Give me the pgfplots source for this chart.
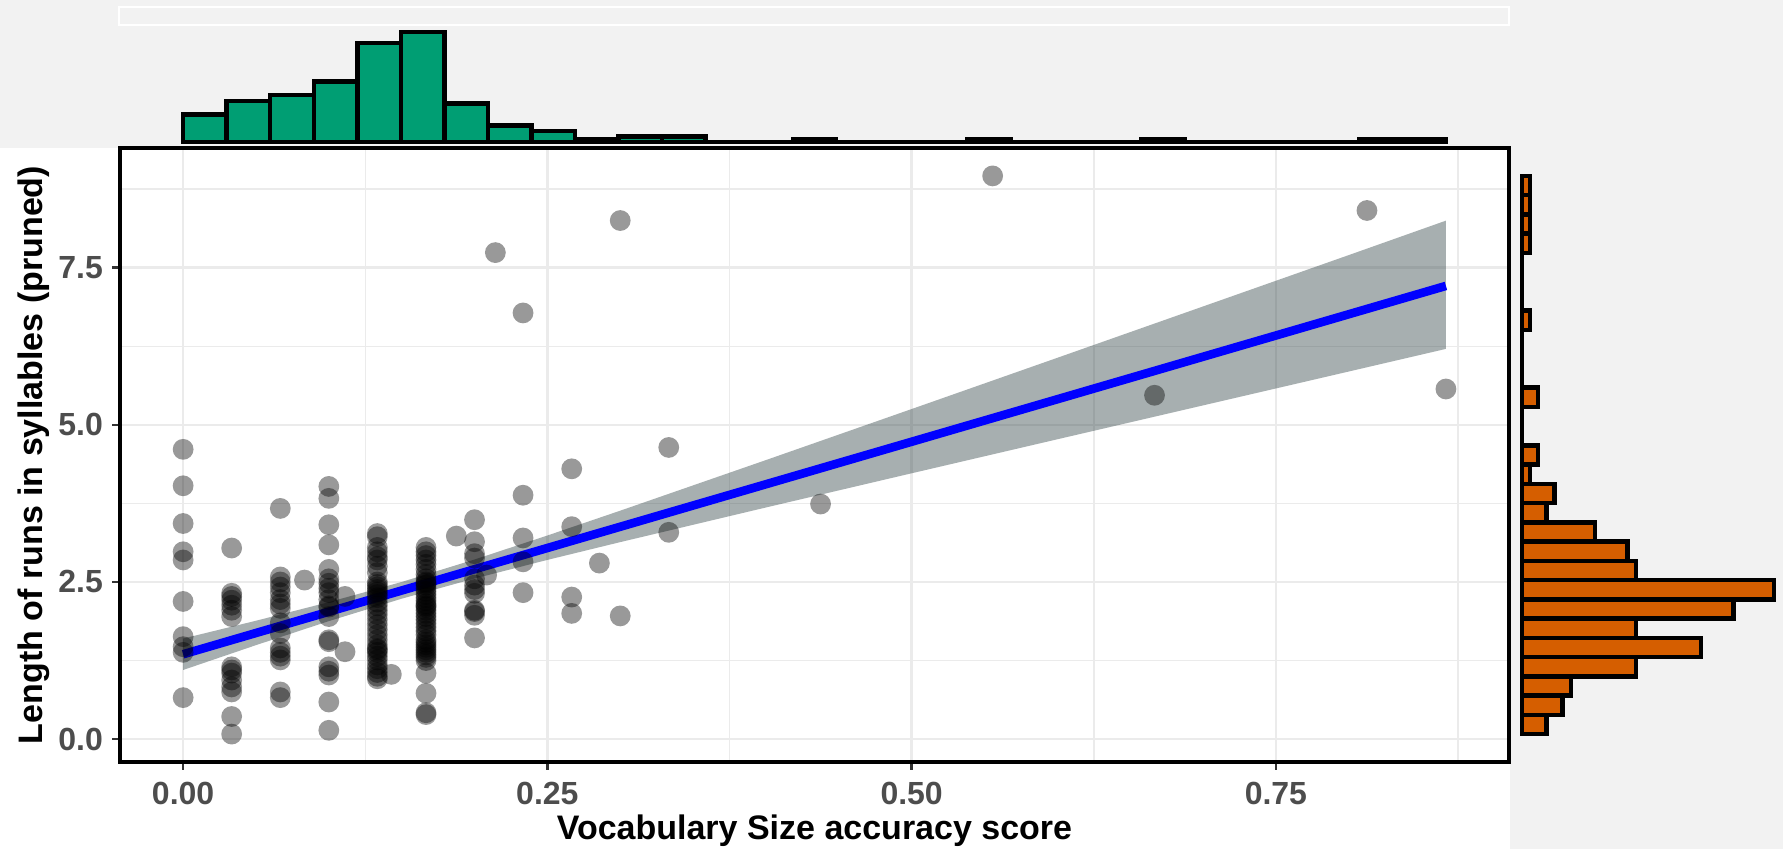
\documentclass[border=0pt]{standalone}
\usepackage{fontspec}
\setmainfont{Liberation Sans}
\usepackage{pgfplots}
\pgfplotsset{compat=1.18}
\definecolor{bggray}{RGB}{242,242,242}
\definecolor{gridcol}{RGB}{235,235,235}
\definecolor{tickcol}{RGB}{51,51,51}
\definecolor{labcol}{RGB}{77,77,77}
\definecolor{histgreen}{RGB}{0,158,115}
\definecolor{historange}{RGB}{213,94,0}
\definecolor{bandcol}{RGB}{35,55,58}
\begin{document}
\begin{tikzpicture}
\fill[bggray] (0,0) rectangle (891.5pt,424.5pt);
\fill[white] (0,0) rectangle (755pt,350.5pt);
\draw[white, line width=1pt] (59.5pt,412pt) rectangle (754.5pt,420.75pt);

% main scatter panel
\begin{axis}[
  at={(60pt,43.5pt)}, anchor=south west,
  width=694.5pt, height=307pt, scale only axis,
  xmin=-0.04333, xmax=0.91, ymin=-0.364, ymax=9.404,
  axis line style={line width=2.2pt, black},
  xtick={0,0.25,0.5,0.75}, xticklabels={0.00,0.25,0.50,0.75},
  ytick={0,2.5,5,7.5}, yticklabels={0.0,2.5,5.0,7.5},
  minor xtick={0.125,0.375,0.625,0.875},
  minor ytick={1.25,3.75,6.25,8.75},
  grid=both,
  major grid style={line width=1.3pt, color=gridcol},
  minor grid style={line width=0.75pt, color=gridcol},
  tick align=outside, xtick pos=bottom, ytick pos=left,
  major tick length=4pt, minor tick length=0pt,
  tick style={line width=1.2pt, color=tickcol},
  ticklabel style={font=\fontsize{16}{18}\selectfont\bfseries, text=labcol},
  xticklabel style={yshift=-2.5pt},
  yticklabel style={xshift=-1pt},
  xlabel={Vocabulary Size accuracy score},
  ylabel={Length of runs in syllables (pruned)},
  label style={font=\fontsize{17}{20}\selectfont\bfseries, text=black},
  xlabel style={at={(axis description cs:0.5,-0.1124)}, anchor=center},
  ylabel style={at={(axis description cs:-0.0619,0.5)}, anchor=center},
]
\addplot[only marks, mark=*, mark size=5.2pt, draw=none,
  mark options={solid, fill=black, draw=black, draw opacity=0, fill opacity=0.4, line width=0pt}] coordinates {
(0,4.61) (0,4.03) (0,3.43) (0,2.98) (0,2.85) (0,2.19) (0,1.63) (0,1.47) (0,1.38) (0,0.66)
(0.0333,3.04) (0.0333,2.32) (0.0333,2.27) (0.0333,2.21) (0.0333,2.13) (0.0333,2.05) (0.0333,1.95) (0.0333,1.15) (0.0333,1.10) (0.0333,1.05) (0.0333,0.94) (0.0333,0.83) (0.0333,0.75) (0.0333,0.36) (0.0333,0.08)
(0.0667,3.67) (0.0667,2.58) (0.0667,2.50) (0.0667,2.42) (0.0667,2.33) (0.0667,2.22) (0.0667,2.15) (0.0667,2.08) (0.0667,1.85) (0.0667,1.68) (0.0667,1.45) (0.0667,1.38) (0.0667,1.32) (0.0667,1.26) (0.0667,0.75) (0.0667,0.66)
(0.0833,2.53)
(0.1,4.02) (0.1,3.83) (0.1,3.41) (0.1,3.09) (0.1,2.70) (0.1,2.55) (0.1,2.48) (0.1,2.40) (0.1,2.33) (0.1,2.10) (0.1,2.22) (0.1,2.12) (0.1,1.95) (0.1,1.58) (0.1,1.55) (0.1,1.15) (0.1,1.08) (0.1,1.02) (0.1,0.59) (0.1,0.14)
(0.1111,1.39) (0.1111,2.27)
(0.1333,3.27) (0.1333,3.22) (0.1333,3.05) (0.1333,2.98) (0.1333,2.90) (0.1333,2.85) (0.1333,2.75) (0.1333,2.65) (0.1333,2.50) (0.1333,2.46) (0.1333,2.42) (0.1333,2.38) (0.1333,2.34) (0.1333,2.30) (0.1333,2.25) (0.1333,2.18) (0.1333,2.12) (0.1333,2.05) (0.1333,1.98) (0.1333,1.90) (0.1333,1.82) (0.1333,1.74) (0.1333,1.66) (0.1333,1.58) (0.1333,1.50) (0.1333,1.44) (0.1333,1.38) (0.1333,1.32) (0.1333,1.26) (0.1333,1.18) (0.1333,1.12) (0.1333,1.06) (0.1333,1.00) (0.1333,0.96) (0.1333,1.42)
(0.1429,1.03)
(0.1667,3.05) (0.1667,2.98) (0.1667,2.92) (0.1667,2.85) (0.1667,2.78) (0.1667,2.70) (0.1667,2.62) (0.1667,2.55) (0.1667,2.50) (0.1667,2.48) (0.1667,2.45) (0.1667,2.40) (0.1667,2.35) (0.1667,2.30) (0.1667,2.25) (0.1667,2.20) (0.1667,2.15) (0.1667,2.12) (0.1667,2.10) (0.1667,2.05) (0.1667,2.00) (0.1667,1.95) (0.1667,1.90) (0.1667,1.84) (0.1667,1.78) (0.1667,1.72) (0.1667,1.66) (0.1667,1.58) (0.1667,1.54) (0.1667,1.50) (0.1667,1.46) (0.1667,1.42) (0.1667,1.38) (0.1667,1.34) (0.1667,1.30) (0.1667,1.25) (0.1667,1.05) (0.1667,0.73) (0.1667,0.42) (0.1667,0.39)
(0.1875,3.23)
(0.2,3.49) (0.2,3.14) (0.2,2.95) (0.2,2.88) (0.2,2.55) (0.2,2.45) (0.2,2.38) (0.2,2.32) (0.2,2.05) (0.2,2.03) (0.2,1.97) (0.2,1.61)
(0.2083,2.61)
(0.2143,7.74)
(0.2333,6.78) (0.2333,3.88) (0.2333,3.20) (0.2333,2.82) (0.2333,2.33)
(0.2667,4.30) (0.2667,3.38) (0.2667,2.26) (0.2667,2.00)
(0.2857,2.80)
(0.3,8.25) (0.3,1.96)
(0.3333,4.64) (0.3333,3.29)
(0.4375,3.74)
(0.5556,8.96)
(0.6667,5.47)
(0.8125,8.41)
(0.8667,5.57)
};
\addplot[draw=none, fill=bandcol, fill opacity=0.4] coordinates {
(0,1.60) (0.05,1.883) (0.1,2.179) (0.15,2.500) (0.2,2.857) (0.25,3.239) (0.3,3.634) (0.4,4.439) (0.5,5.251) (0.6,6.066) (0.7,6.883) (0.8,7.700) (0.8667,8.248)
(0.8667,6.208) (0.8,5.848) (0.7,5.309) (0.6,4.770) (0.5,4.229) (0.4,3.685) (0.3,3.134) (0.25,2.851) (0.2,2.555) (0.15,2.234) (0.1,1.877) (0.05,1.495) (0,1.10)
} -- cycle;
\addplot[blue, line width=4.3pt] coordinates {(0,1.35) (0.8667,7.21)};
\end{axis}

% top marginal histogram
\begin{axis}[
  at={(60pt,353.4pt)}, anchor=south west,
  width=694.5pt, height=69pt, scale only axis,
  xmin=-0.04333, xmax=0.91, ymin=0, ymax=50,
  hide axis, clip=false, ybar interval,
]
\addplot[fill=histgreen, draw=black, line width=2.2pt] coordinates {
(0.000000,10) (0.029885,15) (0.059770,17) (0.089655,22) (0.119540,36) (0.149425,40) (0.179310,14) (0.209195,6) (0.239080,4) (0.268966,1) (0.298851,2) (0.328736,2) (0.358621,0) (0.388506,0) (0.418391,1) (0.448276,0) (0.478161,0) (0.508046,0) (0.537931,1) (0.567816,0) (0.597701,0) (0.627586,0) (0.657471,1) (0.687356,0) (0.717241,0) (0.747126,0) (0.777011,0) (0.806897,1) (0.836782,1) (0.866667,1)
};
\end{axis}

% right marginal histogram
\begin{axis}[
  at={(761pt,43.5pt)}, anchor=south west,
  width=126pt, height=307pt, scale only axis,
  xmin=0, xmax=31, ymin=-0.364, ymax=9.404,
  hide axis, clip=false, xbar interval,
]
\addplot[fill=historange, draw=black, line width=2.2pt] coordinates {
(3,0.0800) (5,0.3862) (6,0.6924) (14,0.9986) (22,1.3048) (14,1.6110) (26,1.9172) (31,2.2234) (14,2.5297) (13,2.8359) (9,3.1421) (3,3.4483) (4,3.7545) (1,4.0607) (2,4.3669) (0,4.6731) (0,4.9793) (2,5.2855) (0,5.5917) (0,5.8979) (0,6.2041) (1,6.5103) (0,6.8166) (0,7.1228) (0,7.4290) (1,7.7352) (1,8.0414) (1,8.3476) (1,8.6538) (1,8.9600)
};
\end{axis}
\pgfresetboundingbox
\path[use as bounding box] (0,0) rectangle (891.5pt,424.5pt);
\end{tikzpicture}
\end{document}
